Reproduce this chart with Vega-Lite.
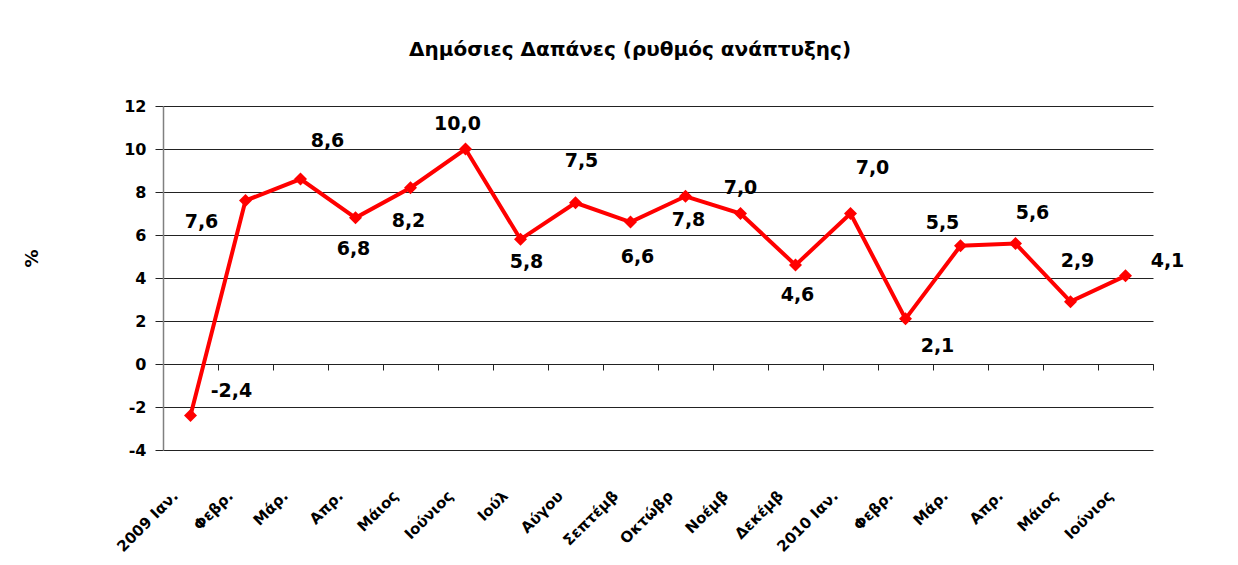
{
  "$schema": "https://vega.github.io/schema/vega-lite/v6.json",
  "width": 990,
  "height": 344,
  "autosize": "none",
  "padding": {"left": 163, "top": 106, "right": 85, "bottom": 115},
  "background": "white",
  "title": {
    "text": "Δημόσιες Δαπάνες (ρυθμός ανάπτυξης)",
    "font": "DejaVu Sans",
    "fontSize": 20,
    "fontWeight": "bold",
    "color": "#000000",
    "anchor": "middle",
    "dx": -28,
    "offset": 38
  },
  "config": {
    "view": {"stroke": null},
    "locale": {
      "number": {"decimal": ",", "thousands": ".", "grouping": [3], "currency": ["", " €"], "minus": "-"}
    },
    "axis": {"labelFont": "DejaVu Sans", "titleFont": "DejaVu Sans", "labelColor": "#000000", "titleColor": "#000000"}
  },
  "data": {
    "values": [
      {"period": "2009-01", "value": -2.4},
      {"period": "2009-02", "value": 7.6},
      {"period": "2009-03", "value": 8.6},
      {"period": "2009-04", "value": 6.8},
      {"period": "2009-05", "value": 8.2},
      {"period": "2009-06", "value": 10.0},
      {"period": "2009-07", "value": 5.8},
      {"period": "2009-08", "value": 7.5},
      {"period": "2009-09", "value": 6.6},
      {"period": "2009-10", "value": 7.8},
      {"period": "2009-11", "value": 7.0},
      {"period": "2009-12", "value": 4.6},
      {"period": "2010-01", "value": 7.0},
      {"period": "2010-02", "value": 2.1},
      {"period": "2010-03", "value": 5.5},
      {"period": "2010-04", "value": 5.6},
      {"period": "2010-05", "value": 2.9},
      {"period": "2010-06", "value": 4.1}
    ]
  },
  "resolve": {"axis": {"x": "independent"}},
  "layer": [
    {
      "mark": {"type": "line", "color": "#ff0000", "strokeWidth": 4},
      "encoding": {
        "x": {
          "field": "period",
          "type": "ordinal",
          "sort": null,
          "scale": {"type": "band", "paddingInner": 0, "paddingOuter": 0},
          "axis": {
            "orient": "bottom",
            "title": null,
            "domain": false,
            "ticks": false,
            "grid": false,
            "labelAngle": -45,
            "labelFontSize": 15,
            "labelFontWeight": "bold",
            "labelPadding": 38,
            "labelOffset": -20,
            "labelExpr": "{'2009-01':'2009 Ιαν.','2009-02':'Φεβρ.','2009-03':'Μάρ.','2009-04':'Απρ.','2009-05':'Μάιος','2009-06':'Ιούνιος','2009-07':'Ιούλ','2009-08':'Αύγου','2009-09':'Σεπτέμβ','2009-10':'Οκτώβρ','2009-11':'Νοέμβ','2009-12':'Δεκέμβ','2010-01':'2010 Ιαν.','2010-02':'Φεβρ.','2010-03':'Μάρ.','2010-04':'Απρ.','2010-05':'Μάιος','2010-06':'Ιούνιος'}[datum.value]"
          }
        },
        "y": {
          "field": "value",
          "type": "quantitative",
          "scale": {"domain": [-4, 12], "nice": false, "zero": false},
          "axis": {
            "values": [-4, -2, 0, 2, 4, 6, 8, 10, 12],
            "grid": true,
            "gridColor": "#222222",
            "gridOpacity": 1,
            "domainColor": "#808080",
            "domainWidth": 1.5,
            "tickColor": "#222222",
            "tickSize": 8,
            "labelFontSize": 16,
            "labelFontWeight": "bold",
            "labelPadding": 9,
            "title": "%",
            "titleFontSize": 18,
            "titleFontWeight": "bold",
            "titleX": -122,
            "titleY": 152
          }
        }
      }
    },
    {
      "mark": {"type": "point", "shape": "diamond", "filled": true, "color": "#ff0000", "size": 170, "opacity": 1},
      "encoding": {
        "x": {
          "field": "period",
          "type": "ordinal",
          "sort": null,
          "axis": {
            "orient": "bottom",
            "offset": -86,
            "title": null,
            "labels": false,
            "grid": false,
            "domain": true,
            "domainColor": "#222222",
            "ticks": true,
            "tickBand": "extent",
            "tickSize": 6,
            "tickColor": "#222222"
          }
        },
        "y": {"field": "value", "type": "quantitative"}
      }
    },
    {
      "mark": {
        "type": "text",
        "font": "DejaVu Sans",
        "fontSize": 19,
        "fontWeight": "bold",
        "color": "#000000",
        "align": "center",
        "baseline": "middle",
        "dx": {"expr": "({'2009-01':41,'2009-02':-44,'2009-03':27,'2009-04':-2,'2009-05':-2,'2009-06':-8,'2009-07':6,'2009-08':6,'2009-09':7,'2009-10':3,'2009-11':0,'2009-12':2,'2010-01':22,'2010-02':32,'2010-03':-18,'2010-04':17,'2010-05':7,'2010-06':42})[datum.period]"},
        "dy": {"expr": "({'2009-01':-25,'2009-02':21,'2009-03':-38,'2009-04':31,'2009-05':33,'2009-06':-25,'2009-07':23,'2009-08':-42,'2009-09':35,'2009-10':24,'2009-11':-26,'2009-12':30,'2010-01':-46,'2010-02':27,'2010-03':-23,'2010-04':-31,'2010-05':-41,'2010-06':-15})[datum.period]"}
      },
      "encoding": {
        "x": {"field": "period", "type": "ordinal", "sort": null, "axis": null},
        "y": {"field": "value", "type": "quantitative"},
        "text": {"field": "value", "type": "quantitative", "format": ".1f"}
      }
    }
  ]
}
